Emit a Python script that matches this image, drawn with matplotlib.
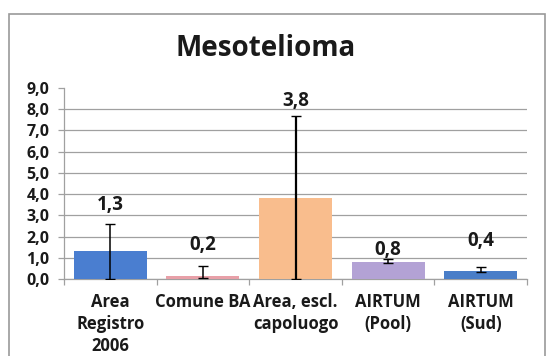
import matplotlib
matplotlib.use("Agg")
import matplotlib.pyplot as plt
from matplotlib.patches import Rectangle

categories = ["Area\nRegistro\n2006", "Comune BA", "Area, escl.\ncapoluogo", "AIRTUM\n(Pool)", "AIRTUM\n(Sud)"]
values = [1.3, 0.15, 3.8, 0.8, 0.4]
value_labels = ["1,3", "0,2", "3,8", "0,8", "0,4"]
ci_low = [0.0, 0.05, 0.0, 0.75, 0.32]
ci_high = [2.57, 0.6, 7.7, 0.93, 0.55]
colors = ["#4a7ed0", "#e8a0a8", "#f9bd8d", "#b3a2d5", "#4a7ec8"]
yticks = [0, 1, 2, 3, 4, 5, 6, 7, 8, 9]
ytick_labels = ["0,0", "1,0", "2,0", "3,0", "4,0", "5,0", "6,0", "7,0", "8,0", "9,0"]
label_y = [3.5, 1.6, 8.4, 1.36, 1.8]

plt.rcParams['font.family'] = ['Open Sans', 'DejaVu Sans']

W, H = 546, 356
fig = plt.figure(figsize=(W / 100, H / 100), dpi=100)
fig.patch.set_facecolor("white")

# outer frame
fig.patches.append(Rectangle((9 / W, -0.05), (545 - 9) / W, (H - 14) / H + 0.05,
                             transform=fig.transFigure, fill=False,
                             edgecolor="#9a9a9a", lw=1.2))

ax = fig.add_axes([64 / W, (H - 279) / H, (527 - 64) / W, (279 - 88) / H])
x = list(range(len(categories)))
ax.bar(x, values, width=0.79, color=colors, zorder=3)

err_lo = [v - l for v, l in zip(values, ci_low)]
err_hi = [h - v for v, h in zip(values, ci_high)]
for i in x:
    ax.errorbar(i, values[i], yerr=[[err_lo[i]], [err_hi[i]]], fmt="none",
                ecolor="black", elinewidth=1.6 if i == 2 else 1.1,
                capsize=3.5, capthick=1.0, zorder=4)

for i in x:
    ax.text(i, label_y[i], value_labels[i], ha="center", va="center",
            fontsize=13.5, fontweight="bold", color="#1a1a1a", zorder=5)

ax.set_xlim(-0.5, len(categories) - 0.5)
ax.set_ylim(0, 9)
ax.set_yticks(yticks)
ax.set_yticklabels(ytick_labels, fontsize=11.5, fontweight="bold", color="#1a1a1a")
for t in yticks[:-1]:
    ax.axhline(t, color="#a0a0a0", lw=0.9, zorder=1)

ax.set_xticks(x)
ax.set_xticklabels(categories, fontsize=12, fontweight="bold", color="#1a1a1a",
                   linespacing=1.3)
ax.tick_params(axis="x", length=0, pad=10)
ax.set_xticks([i - 0.5 for i in range(len(categories) + 1)], minor=True)
ax.tick_params(axis="x", which="minor", length=4, color="#a0a0a0", width=0.9)
ax.tick_params(axis="y", length=4.5, color="#a0a0a0", width=0.9, pad=6)

for s in ["top", "right"]:
    ax.spines[s].set_visible(False)
for s in ["left", "bottom"]:
    ax.spines[s].set_color("#a0a0a0")
    ax.spines[s].set_linewidth(0.9)

fig.text(266 / W, 1 - 48 / H, "Mesotelioma", ha="center", va="center",
         fontsize=20, fontweight="bold", color="#1a1a1a")

fig.savefig("out.png", dpi=100)
